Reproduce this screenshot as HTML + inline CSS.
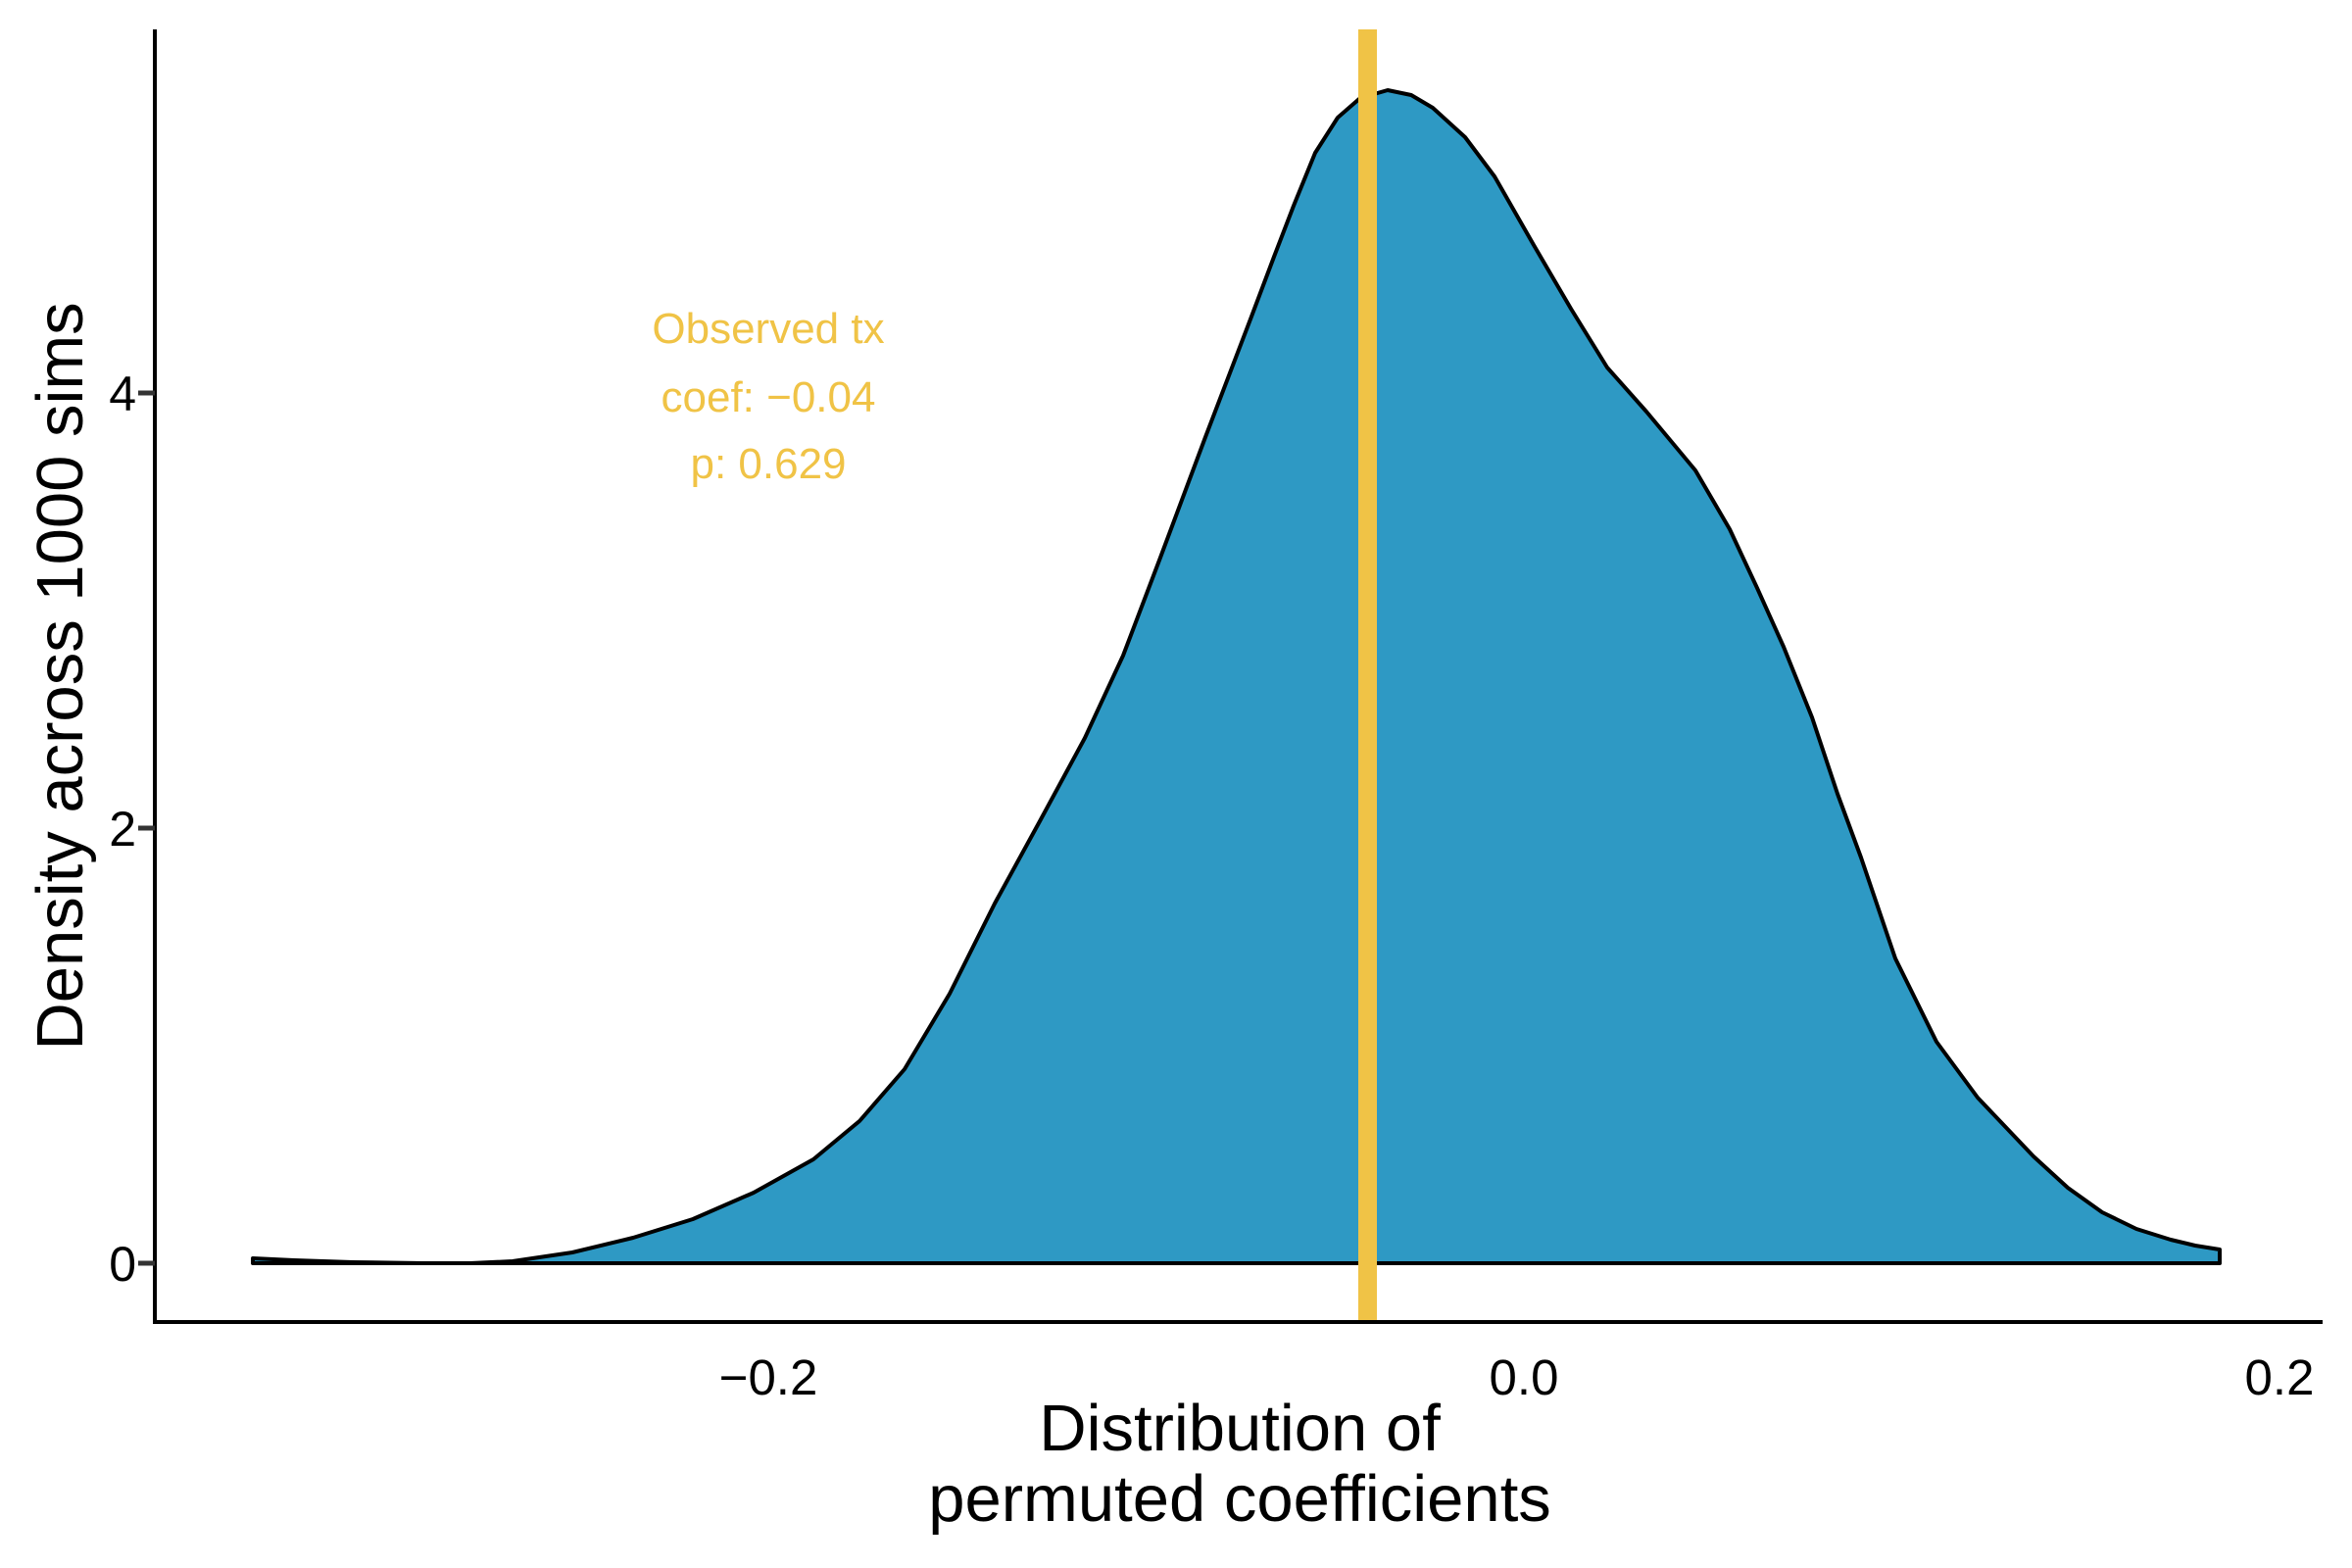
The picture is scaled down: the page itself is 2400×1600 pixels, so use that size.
<!DOCTYPE html>
<html><head><meta charset="utf-8"><style>html,body{margin:0;padding:0;background:#fff}svg{display:block}</style></head>
<body>
<svg width="2400" height="1600" viewBox="0 0 2400 1600" xmlns="http://www.w3.org/2000/svg" font-family="Liberation Sans, Arial, sans-serif">
<rect width="2400" height="1600" fill="#fff"/>
<path d="M258,1284 L300,1286 L360,1288 L431,1289 L480,1289 L523,1287 L584,1278 L646,1263 L707,1244 L769,1217 L830,1183 L877,1144 L923,1091 L969,1014 L1015,922 L1061,838 L1107,753 L1146,669 L1184,569 L1230,446 L1277,323 L1300,262 L1320,210 L1342,156 L1365,120 L1388,100 L1416,92 L1440,97 L1462,110 L1495,140 L1525,180 L1565,250 L1603,315 L1640,375 L1680,420 L1730,480 L1765,540 L1793,600 L1820,660 L1849,732 L1875,810 L1899,875 L1934,978 L1976,1063 L2018,1120 L2075,1180 L2110,1212 L2145,1237 L2180,1254 L2215,1265 L2240,1271 L2265,1275 L2265,1289 L258,1289 Z" fill="#2E99C4" stroke="#000" stroke-width="4" stroke-linejoin="round"/>
<rect x="1386" y="30" width="19" height="1318" fill="#F0C346"/>
<line x1="158" y1="30" x2="158" y2="1351" stroke="#000" stroke-width="4"/>
<line x1="156" y1="1349" x2="2370" y2="1349" stroke="#000" stroke-width="4"/>
<g stroke="#333" stroke-width="5">
<line x1="141" y1="1289" x2="158" y2="1289"/>
<line x1="141" y1="845" x2="158" y2="845"/>
<line x1="141" y1="401" x2="158" y2="401"/>
</g>
<g font-size="50" fill="#000" text-anchor="end">
<text x="139" y="1307">0</text>
<text x="139" y="863">2</text>
<text x="139" y="419">4</text>
</g>
<g font-size="51" fill="#000" text-anchor="middle">
<text x="784" y="1423">−0.2</text>
<text x="1555" y="1423">0.0</text>
<text x="2326" y="1423">0.2</text>
</g>
<g font-size="67" fill="#000" text-anchor="middle">
<text x="1265" y="1480">Distribution of</text>
<text x="1265" y="1552">permuted coefficients</text>
<text transform="translate(84,690) rotate(-90)">Density across 1000 sims</text>
</g>
<g font-size="44" fill="#F0C346" text-anchor="middle">
<text x="784" y="350">Observed tx</text>
<text x="784" y="420">coef: −0.04</text>
<text x="784" y="488">p: 0.629</text>
</g>
</svg>
</body></html>
